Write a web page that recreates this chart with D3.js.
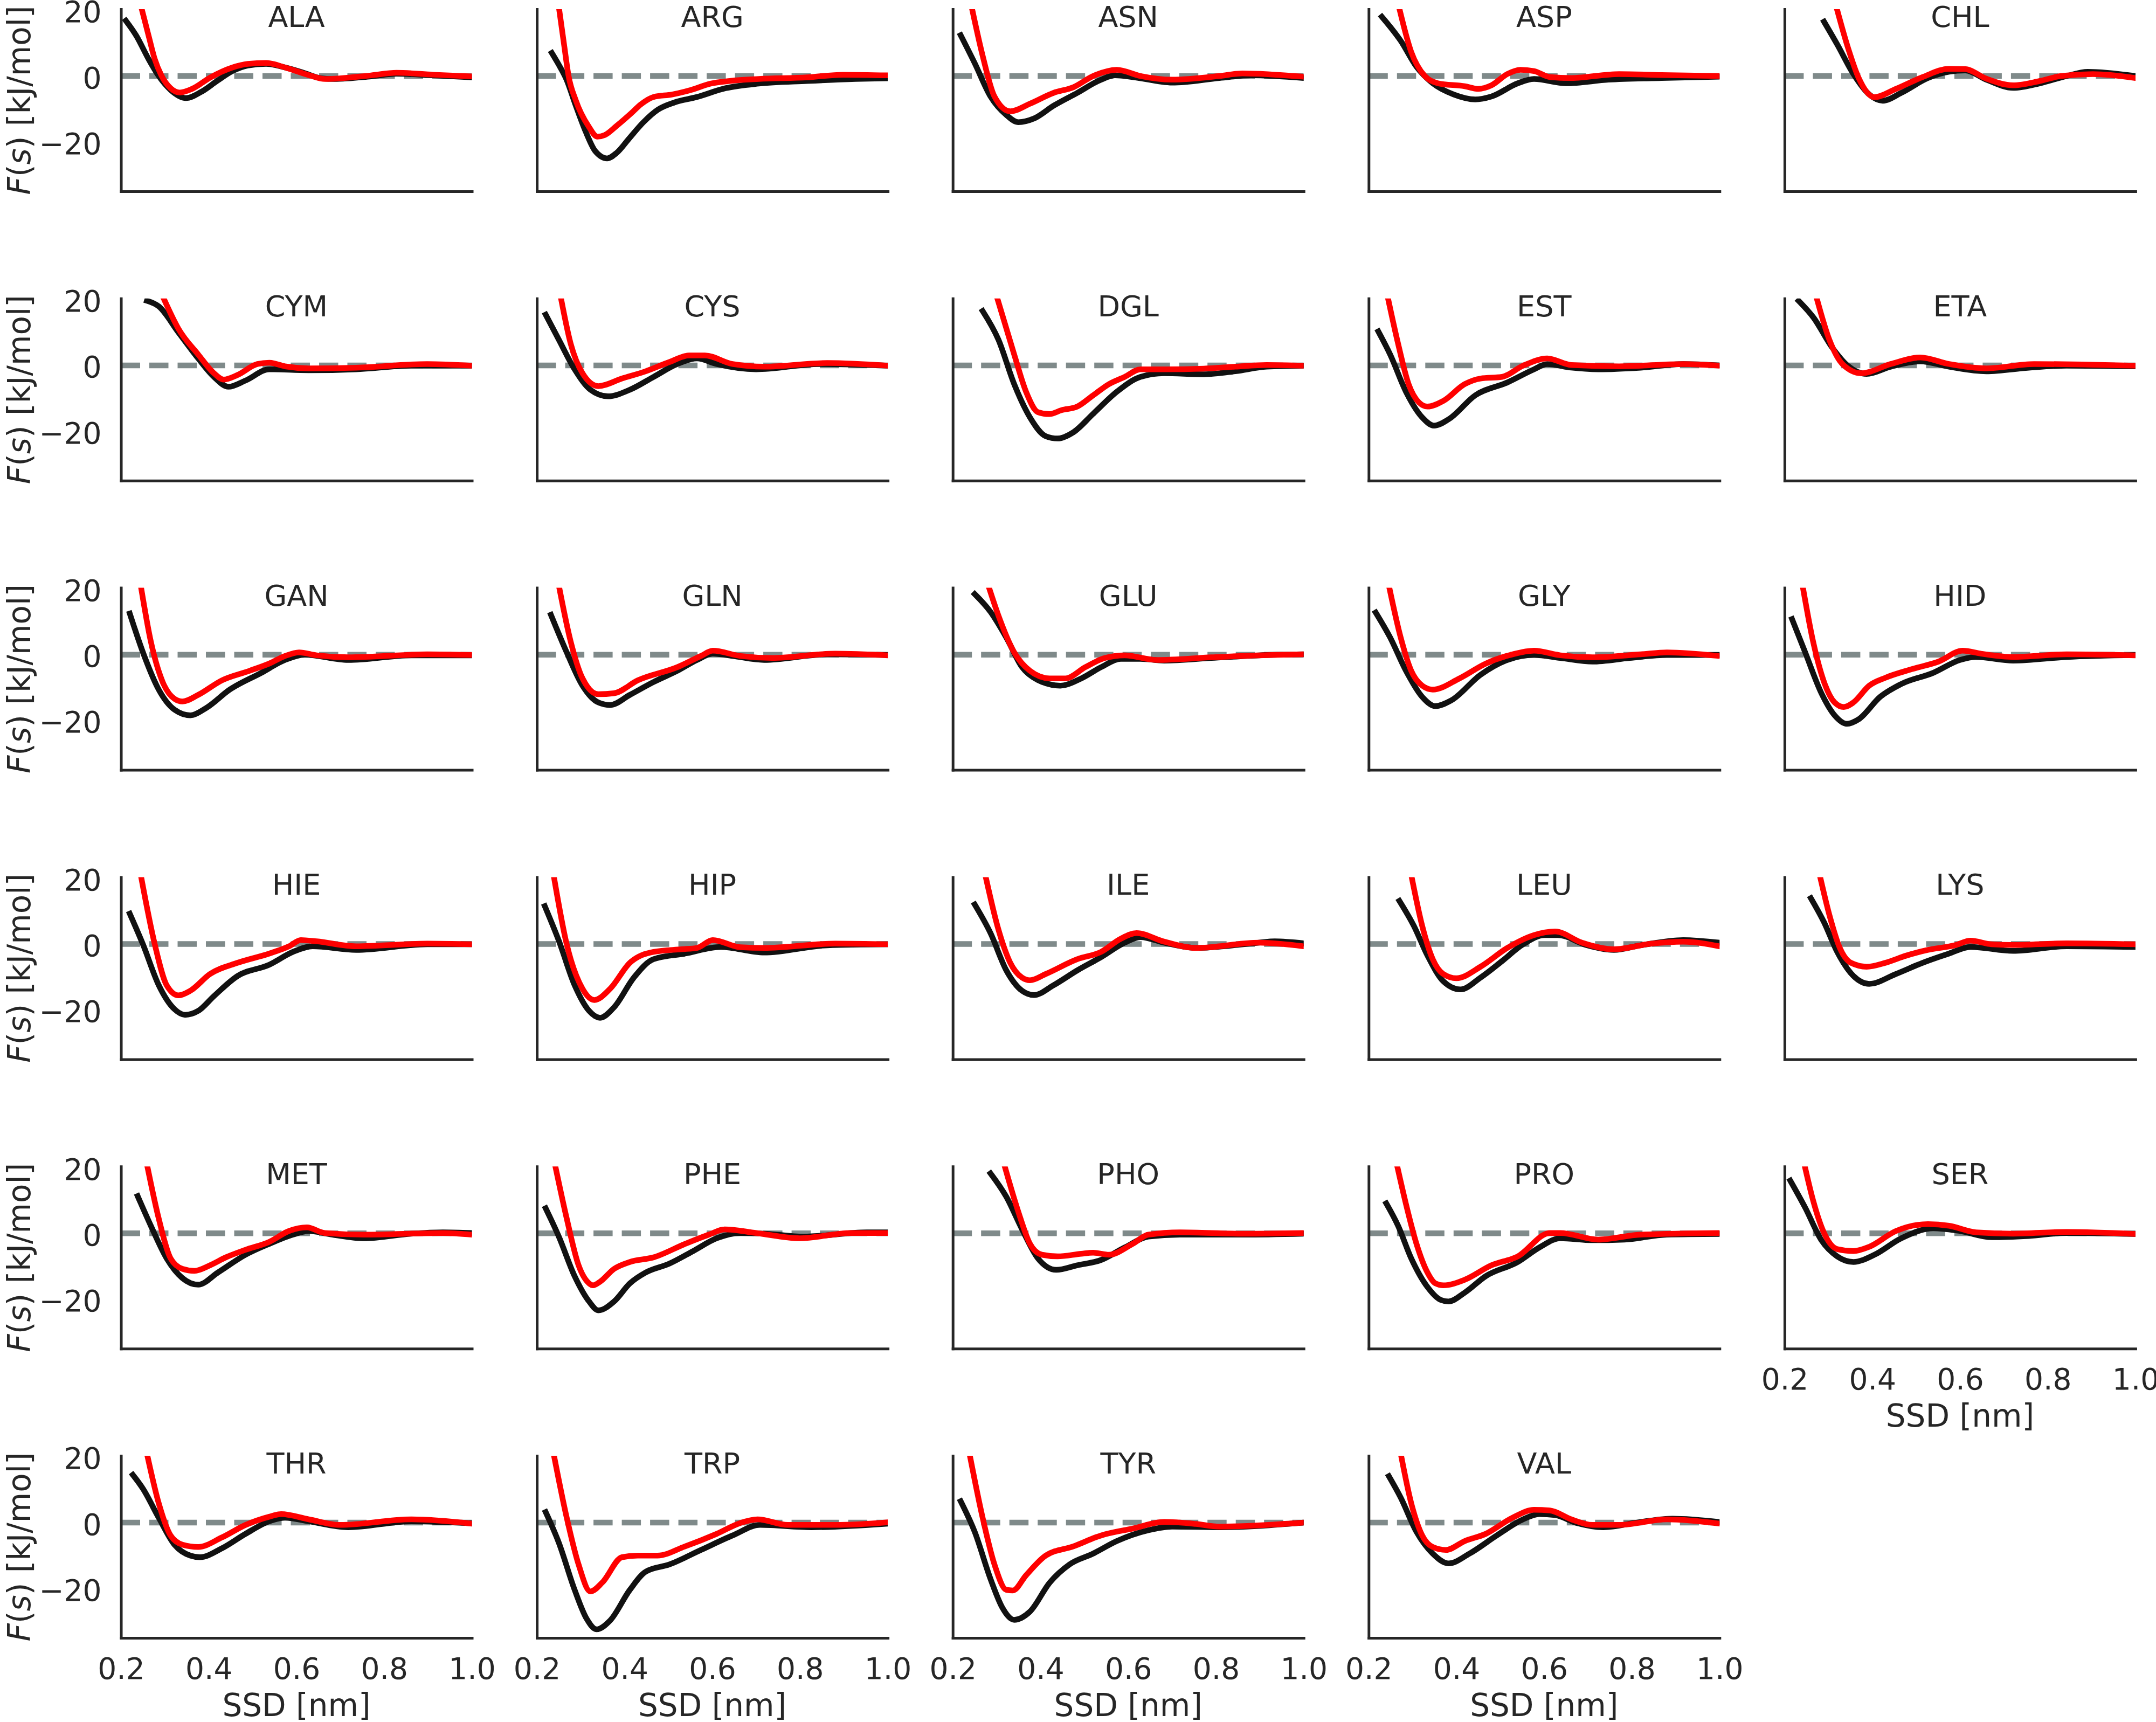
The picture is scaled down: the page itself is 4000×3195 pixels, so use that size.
<!DOCTYPE html>
<html>
<head>
<meta charset="utf-8">
<script src="https://cdn.jsdelivr.net/npm/d3@7"></script>
<style>
  html, body { margin: 0; padding: 0; background: #ffffff; }
  svg { display: block; }
</style>
</head>
<body>
<script>
// ---------------- DATA ----------------
const residues = ["ALA","ARG","ASN","ASP","CHL","CYM","CYS","DGL","EST","ETA",
                  "GAN","GLN","GLU","GLY","HID","HIE","HIP","ILE","LEU","LYS",
                  "MET","PHE","PHO","PRO","SER","THR","TRP","TYR","VAL"];
const xTicks = [0.2, 0.4, 0.6, 0.8, 1.0];
const yTicks = [-20, 0, 20];
const xLabel = "SSD [nm]";

// black curves [SSD nm, F(s) kJ/mol]
const blackALA = [[0.211,16.8],[0.235,12.2],[0.263,5.1],[0.285,0.2],[0.313,-4.2],[0.348,-6.7],[0.383,-4.8],[0.419,-1.5],[0.454,1.5],[0.489,3.2],[0.531,3.7],[0.574,2.6],[0.616,1.0],[0.658,-0.7],[0.687,-0.9],[0.77,-0.1],[0.828,0.7],[0.912,0.2],[1.0,-0.4]];
const redALA   = [[0.246,21],[0.263,12.2],[0.277,5.1],[0.292,0.2],[0.313,-3.7],[0.334,-5.0],[0.362,-3.9],[0.404,-0.4],[0.454,2.6],[0.489,3.7],[0.531,4.0],[0.574,2.6],[0.63,0.2],[0.665,-0.9],[0.77,0.2],[0.828,1.0],[0.912,0.4],[1.0,-0.1]];
const blackARG = [[0.234,7.0],[0.25,3.4],[0.267,-0.9],[0.289,-9.1],[0.311,-16.8],[0.333,-22.8],[0.36,-25],[0.382,-23.3],[0.41,-19],[0.443,-14],[0.476,-10.2],[0.514,-8.0],[0.564,-6.4],[0.63,-3.7],[0.706,-2.3],[0.816,-1.5],[0.926,-0.9],[1.0,-0.7]];
const redARG   = [[0.25,21],[0.262,9.5],[0.272,0.2],[0.289,-7.5],[0.317,-15.1],[0.338,-18.4],[0.355,-17.9],[0.382,-15.1],[0.415,-11.3],[0.437,-8.6],[0.465,-6.4],[0.508,-5.6],[0.552,-4.2],[0.596,-2.3],[0.64,-1.5],[0.706,-0.9],[0.816,-0.4],[0.898,0.4],[1.0,0.2]];
const blackASN = [[0.218,12.4],[0.25,3.9],[0.286,-6.2],[0.322,-11.8],[0.349,-14.0],[0.385,-12.9],[0.43,-9.0],[0.484,-5.1],[0.538,-1.1],[0.57,0.2],[0.61,-0.3],[0.7,-2.0],[0.808,-0.6],[0.88,0.2],[1.0,-0.6]];
const redASN   = [[0.243,21],[0.268,6.2],[0.295,-6.2],[0.331,-10.7],[0.376,-8.4],[0.43,-5.1],[0.475,-3.4],[0.52,0],[0.574,1.9],[0.628,0],[0.7,-1.1],[0.808,0],[0.86,0.8],[1.0,-0.2]];
const blackASP = [[0.23,18],[0.273,10.7],[0.309,2.8],[0.346,-2.2],[0.394,-5.6],[0.443,-7.1],[0.48,-6.2],[0.54,-2.2],[0.577,-0.9],[0.65,-2.2],[0.747,-1.1],[0.868,-0.6],[1.0,-0.2]];
const redASP   = [[0.269,21],[0.297,7.3],[0.328,0],[0.358,-2.2],[0.419,-3.1],[0.449,-3.9],[0.48,-2.8],[0.516,0.6],[0.546,1.9],[0.577,1.5],[0.613,-0.3],[0.662,-0.6],[0.771,0.6],[0.868,0.3],[1.0,0]];
const blackCHL = [[0.29,16.5],[0.32,9.6],[0.357,0.6],[0.393,-5.6],[0.424,-7.5],[0.466,-5.1],[0.527,-0.6],[0.575,1.3],[0.612,1.7],[0.66,-1.1],[0.721,-3.6],[0.782,-2.2],[0.843,0],[0.891,1.3],[1.0,0]];
const redCHL   = [[0.318,21],[0.345,8.4],[0.369,-0.6],[0.405,-6.4],[0.454,-3.9],[0.515,-0.3],[0.575,2.2],[0.612,2.1],[0.66,-0.8],[0.721,-2.8],[0.782,-1.5],[0.83,0],[0.903,0.6],[1.0,-0.6]];
const blackCYM = [[0.259,19.6],[0.286,17.9],[0.331,10],[0.376,2.1],[0.412,-3.5],[0.445,-6.5],[0.484,-4.6],[0.538,-1.2],[0.628,-1.5],[0.736,-1.2],[0.862,-0.1],[1.0,-0.1]];
const redCYM   = [[0.295,21],[0.331,11.1],[0.376,3.3],[0.412,-2.4],[0.434,-4.3],[0.466,-2.9],[0.511,0.4],[0.538,0.8],[0.574,-0.3],[0.628,-0.9],[0.736,-0.7],[0.898,0.4],[1.0,-0.1]];
const blackCYS = [[0.22,15.4],[0.25,7.8],[0.286,-1.2],[0.322,-7.4],[0.362,-9.4],[0.412,-7.4],[0.466,-3.5],[0.52,0.4],[0.565,2.1],[0.61,0.4],[0.7,-1.2],[0.844,0.4],[1.0,-0.1]];
const redCYS   = [[0.254,21],[0.277,6.6],[0.304,-2.4],[0.34,-6.3],[0.394,-4.0],[0.448,-1.8],[0.502,1.0],[0.547,3.0],[0.583,3.0],[0.646,0.4],[0.718,-0.4],[0.862,0.7],[1.0,-0.1]];
const blackDGL = [[0.268,16.5],[0.304,7.8],[0.34,-5.7],[0.376,-15.8],[0.412,-21.5],[0.439,-22.2],[0.475,-20.3],[0.52,-14.7],[0.574,-8.0],[0.628,-3.5],[0.682,-2.4],[0.772,-2.7],[0.844,-1.8],[0.916,-0.4],[1.0,-0.1]];
const redDGL   = [[0.3,21],[0.34,3.3],[0.367,-8.0],[0.394,-14.2],[0.42,-14.8],[0.448,-13.6],[0.484,-12.5],[0.52,-9.1],[0.556,-5.7],[0.592,-3.5],[0.628,-1.2],[0.682,-1.2],[0.772,-1.0],[0.844,-0.4],[0.916,0.1],[1.0,-0.1]];
const blackEST = [[0.222,10.3],[0.249,3.3],[0.285,-8.0],[0.322,-15.8],[0.349,-18.3],[0.382,-16.4],[0.443,-9.1],[0.516,-5.2],[0.577,-1.2],[0.607,0.4],[0.662,-0.7],[0.723,-1.2],[0.82,-0.7],[0.917,0.4],[1.0,0]];
const redEST   = [[0.243,21],[0.267,6.6],[0.291,-5.7],[0.315,-11.3],[0.334,-12.5],[0.37,-10.8],[0.419,-5.7],[0.455,-4.0],[0.504,-3.5],[0.552,-0.1],[0.607,2.1],[0.662,0.1],[0.771,-0.3],[0.917,0.4],[1.0,-0.1]];
const blackETA = [[0.232,19.6],[0.266,14.5],[0.308,5.5],[0.344,-0.1],[0.387,-2.6],[0.442,-0.4],[0.509,1.2],[0.575,-0.4],[0.66,-1.8],[0.757,-0.7],[0.843,-0.1],[1.0,-0.3]];
const redETA   = [[0.272,21],[0.302,7.8],[0.332,0.4],[0.375,-2.4],[0.442,0.4],[0.509,2.4],[0.575,0.4],[0.66,-0.9],[0.769,0.4],[0.903,0.2],[1.0,-0.1]];
const blackGAN = [[0.22,12.5],[0.25,0.7],[0.286,-10.6],[0.322,-16.7],[0.358,-18.4],[0.394,-16.2],[0.448,-10.6],[0.52,-5.5],[0.574,-1.6],[0.619,0],[0.718,-1.6],[0.862,-0.2],[1.0,-0.2]];
const redGAN   = [[0.245,21],[0.268,4.0],[0.295,-8.3],[0.322,-13.4],[0.34,-14.2],[0.376,-12.2],[0.43,-7.8],[0.493,-4.9],[0.538,-2.7],[0.574,-0.4],[0.606,0.7],[0.646,-0.2],[0.718,-0.8],[0.898,0.1],[1.0,-0.1]];
const blackGLN = [[0.232,12.1],[0.268,0.7],[0.304,-9.4],[0.34,-14.5],[0.367,-15.3],[0.412,-12.2],[0.466,-8.3],[0.52,-4.9],[0.565,-1.6],[0.601,0.3],[0.646,-0.4],[0.718,-1.6],[0.862,0.1],[1.0,-0.1]];
const redGLN   = [[0.25,21],[0.277,4.0],[0.304,-7.2],[0.34,-12.0],[0.376,-11.7],[0.43,-7.8],[0.52,-3.8],[0.574,-0.4],[0.601,1.2],[0.664,-0.4],[0.736,-1.0],[0.88,0.3],[1.0,-0.2]];
const blackGLU = [[0.25,18.4],[0.286,13.0],[0.322,5.2],[0.358,-3.8],[0.394,-7.7],[0.445,-9.4],[0.493,-7.2],[0.538,-3.8],[0.583,-1.3],[0.628,-1.3],[0.682,-1.8],[0.79,-1.0],[0.898,-0.2],[1.0,0.1]];
const redGLU   = [[0.281,21],[0.304,11.9],[0.34,0.7],[0.376,-4.9],[0.421,-7.2],[0.457,-7.2],[0.502,-3.8],[0.547,-1.0],[0.592,-0.2],[0.664,-1.6],[0.79,-0.8],[0.898,-0.2],[1.0,0.1]];
const blackGLY = [[0.216,12.8],[0.249,5.2],[0.285,-4.9],[0.322,-12.8],[0.352,-15.6],[0.388,-13.9],[0.455,-6.1],[0.516,-1.6],[0.577,-0.1],[0.637,-1.0],[0.71,-2.1],[0.795,-1.0],[0.88,-0.1],[1.0,-0.1]];
const redGLY   = [[0.246,21],[0.273,5.2],[0.297,-4.9],[0.322,-9.4],[0.346,-10.6],[0.407,-7.2],[0.467,-2.7],[0.528,0.1],[0.577,1.2],[0.637,-0.2],[0.71,-0.8],[0.82,0.1],[0.88,0.7],[1.0,-0.4]];
const blackHID = [[0.217,10.8],[0.247,0.7],[0.284,-11.7],[0.314,-18.4],[0.342,-21.0],[0.369,-19.6],[0.418,-12.8],[0.466,-8.9],[0.539,-5.5],[0.6,-1.6],[0.636,-0.7],[0.721,-1.8],[0.843,-0.7],[1.0,-0.1]];
const redHID   = [[0.241,21],[0.265,4.0],[0.29,-8.3],[0.314,-14.5],[0.335,-15.9],[0.357,-14.5],[0.393,-9.4],[0.43,-7.0],[0.49,-4.4],[0.551,-2.1],[0.606,1.2],[0.648,0.3],[0.721,-0.7],[0.843,0.1],[1.0,-0.2]];
const blackHIE = [[0.22,9.2],[0.25,-0.1],[0.286,-12.5],[0.322,-19.8],[0.346,-21.5],[0.376,-20.3],[0.412,-15.8],[0.466,-9.7],[0.538,-6.3],[0.592,-2.4],[0.637,-0.7],[0.736,-1.8],[0.898,-0.1],[1.0,-0.1]];
const redHIE   = [[0.245,21],[0.277,-0.1],[0.304,-12.5],[0.331,-15.6],[0.358,-14.2],[0.403,-9.1],[0.466,-5.7],[0.538,-2.9],[0.583,-0.7],[0.61,1.2],[0.646,0.8],[0.736,-0.7],[0.898,0.1],[1.0,-0.1]];
const blackHIP = [[0.218,11.5],[0.25,1.0],[0.286,-12.5],[0.319,-20.3],[0.344,-22.4],[0.376,-19.2],[0.421,-10.2],[0.466,-4.6],[0.538,-2.9],[0.619,-0.9],[0.718,-2.6],[0.862,-0.4],[1.0,-0.1]];
const redHIP   = [[0.238,21],[0.268,-0.1],[0.304,-13.6],[0.331,-17.0],[0.367,-13.6],[0.412,-5.7],[0.466,-2.4],[0.529,-1.6],[0.565,-1.2],[0.601,1.2],[0.664,-1.0],[0.718,-1.2],[0.88,0.1],[1.0,-0.1]];
const blackILE = [[0.25,12.0],[0.286,3.3],[0.322,-8.0],[0.358,-14.2],[0.385,-15.5],[0.43,-12.5],[0.484,-8.0],[0.538,-4.0],[0.592,0.4],[0.628,2.1],[0.682,0.4],[0.754,-1.2],[0.898,0.4],[0.934,0.8],[1.0,0.2]];
const redILE   = [[0.274,21],[0.304,4.4],[0.331,-5.7],[0.358,-10.2],[0.376,-11.0],[0.412,-9.1],[0.484,-4.6],[0.538,-2.4],[0.583,1.6],[0.619,3.3],[0.682,0.7],[0.754,-1.2],[0.898,0.4],[1.0,-0.7]];
const blackLEU = [[0.27,13.1],[0.303,5.5],[0.334,-3.5],[0.37,-11.3],[0.409,-13.8],[0.455,-10.2],[0.504,-5.2],[0.552,-0.1],[0.601,2.7],[0.631,2.7],[0.698,-0.4],[0.759,-1.8],[0.82,-0.4],[0.917,1.2],[1.0,0.4]];
const redLEU   = [[0.297,21],[0.322,5.5],[0.346,-4.6],[0.37,-9.1],[0.4,-10.4],[0.455,-6.9],[0.516,-1.2],[0.577,2.7],[0.625,3.8],[0.686,0.4],[0.759,-1.6],[0.844,0.1],[0.917,0.7],[1.0,-0.7]];
const blackLYS = [[0.26,13.9],[0.29,6.6],[0.32,-2.4],[0.357,-9.7],[0.393,-12.1],[0.454,-9.1],[0.515,-5.7],[0.575,-2.9],[0.624,-0.9],[0.721,-2.1],[0.843,-0.7],[1.0,-0.9]];
const redLYS   = [[0.28,21],[0.302,8.9],[0.326,-1.2],[0.351,-5.7],[0.387,-6.9],[0.43,-5.7],[0.478,-3.5],[0.527,-1.8],[0.588,-0.4],[0.624,1.0],[0.672,-0.1],[0.721,-0.3],[0.843,0.2],[1.0,-0.1]];
const blackMET = [[0.238,11.3],[0.268,2.3],[0.304,-7.6],[0.34,-13.6],[0.376,-15.6],[0.421,-11.9],[0.484,-6.5],[0.538,-3.2],[0.592,-0.4],[0.628,0.7],[0.682,-0.4],[0.754,-1.5],[0.862,-0.1],[0.934,0.3],[1.0,0.1]];
const redMET   = [[0.259,21],[0.286,4.5],[0.313,-7.6],[0.34,-10.8],[0.367,-11.4],[0.403,-9.7],[0.439,-7.3],[0.484,-5.0],[0.538,-2.6],[0.583,0.7],[0.624,1.8],[0.664,0.1],[0.754,-0.4],[0.934,0.1],[1.0,-0.4]];
const blackPHE = [[0.22,7.6],[0.25,-1.0],[0.286,-13.0],[0.319,-20.7],[0.34,-23.4],[0.376,-20.7],[0.412,-15.2],[0.448,-11.9],[0.502,-9.2],[0.556,-5.4],[0.61,-1.5],[0.664,0.1],[0.718,-0.1],[0.808,-1.0],[0.952,0.3],[1.0,0.3]];
const redPHE   = [[0.241,21],[0.268,4.5],[0.295,-9.7],[0.319,-15.2],[0.328,-15.8],[0.344,-14.7],[0.376,-10.8],[0.412,-8.7],[0.466,-7.3],[0.538,-3.2],[0.592,-0.4],[0.628,1.2],[0.7,0.1],[0.799,-1.5],[0.916,0.1],[1.0,0.1]];
const blackPHO = [[0.286,18.2],[0.322,11.1],[0.358,1.2],[0.394,-7.6],[0.436,-11.1],[0.484,-9.7],[0.538,-8.1],[0.592,-4.3],[0.646,-1.0],[0.718,-0.4],[0.862,-0.4],[1.0,-0.1]];
const redPHO   = [[0.317,21],[0.349,6.7],[0.376,-3.2],[0.403,-6.5],[0.439,-7.0],[0.493,-6.2],[0.52,-5.9],[0.556,-6.5],[0.61,-3.2],[0.646,-0.4],[0.718,0.3],[0.862,-0.1],[1.0,0.1]];
const blackPRO = [[0.24,9.1],[0.267,2.3],[0.297,-7.6],[0.334,-16.3],[0.364,-20.2],[0.382,-20.7],[0.419,-18.0],[0.467,-13.0],[0.54,-8.7],[0.589,-4.3],[0.637,-1.5],[0.71,-2.1],[0.783,-1.9],[0.88,-0.4],[1.0,-0.2]];
const redPRO   = [[0.264,21],[0.285,8.9],[0.309,-3.2],[0.334,-11.9],[0.352,-15.2],[0.37,-15.8],[0.419,-14.1],[0.48,-9.7],[0.54,-7.0],[0.613,0.1],[0.637,0.1],[0.723,-1.9],[0.82,-0.4],[1.0,0.1]];
const blackSER = [[0.213,16.0],[0.247,7.8],[0.284,-2.1],[0.32,-7.0],[0.357,-8.7],[0.405,-6.5],[0.466,-1.5],[0.539,1.5],[0.6,0.7],[0.672,-1.2],[0.757,-0.8],[0.843,0.1],[1.0,-0.2]];
const redSER   = [[0.245,21],[0.265,10.0],[0.29,0.1],[0.32,-4.8],[0.357,-5.4],[0.393,-4.1],[0.454,0.7],[0.527,2.8],[0.575,2.3],[0.636,0.3],[0.721,-0.1],[0.843,0.4],[1.0,-0.2]];
const blackTHR = [[0.227,14.5],[0.25,10.3],[0.286,1.5],[0.322,-6.7],[0.358,-10.0],[0.38,-10.5],[0.43,-7.8],[0.484,-3.4],[0.538,0.4],[0.574,1.5],[0.628,0.4],[0.718,-1.4],[0.862,0.4],[1.0,-0.2]];
const redTHR   = [[0.259,21],[0.286,5.9],[0.313,-3.9],[0.34,-6.7],[0.376,-7.4],[0.43,-4.5],[0.484,-0.7],[0.538,1.8],[0.565,2.6],[0.628,1.0],[0.7,-0.7],[0.862,1.0],[1.0,-0.3]];
const blackTRP = [[0.22,3.2],[0.25,-6.1],[0.286,-20.4],[0.313,-29.1],[0.336,-32.4],[0.367,-29.7],[0.412,-20.4],[0.448,-14.9],[0.502,-12.7],[0.574,-8.3],[0.646,-3.9],[0.709,-0.7],[0.826,-1.4],[1.0,-0.3]];
const redTRP   = [[0.238,21],[0.268,1.5],[0.295,-12.7],[0.322,-20.9],[0.349,-18.2],[0.394,-10.5],[0.43,-10.0],[0.475,-10.0],[0.538,-7.2],[0.61,-3.4],[0.664,-0.1],[0.703,1.0],[0.772,-0.7],[0.88,-0.7],[1.0,0.1]];
const blackTYR = [[0.218,6.5],[0.25,-2.8],[0.286,-17.1],[0.313,-25.8],[0.34,-29.5],[0.376,-27.0],[0.421,-18.2],[0.466,-12.7],[0.52,-9.4],[0.574,-5.6],[0.646,-2.3],[0.7,-1.2],[0.808,-1.4],[1.0,0]];
const redTYR   = [[0.238,21],[0.268,1.5],[0.295,-12.7],[0.322,-20.4],[0.337,-20.6],[0.367,-16.0],[0.412,-10.0],[0.475,-7.2],[0.538,-3.9],[0.61,-1.8],[0.682,0.2],[0.754,-0.4],[0.808,-1.2],[1.0,0]];
const blackVAL = [[0.246,14.1],[0.273,7.6],[0.309,-2.8],[0.346,-9.4],[0.382,-12.4],[0.43,-9.4],[0.492,-3.9],[0.552,1.0],[0.589,2.6],[0.625,2.3],[0.674,-0.1],[0.735,-1.4],[0.82,0.2],[0.893,1.2],[1.0,0.2]];
const redVAL   = [[0.273,21],[0.297,5.9],[0.322,-3.9],[0.346,-7.4],[0.376,-8.3],[0.419,-5.6],[0.467,-3.4],[0.528,1.5],[0.577,3.9],[0.613,3.7],[0.662,1.0],[0.71,-0.7],[0.771,-0.7],[0.88,1.0],[1.0,-0.3]];

const blackSeries = [blackALA,blackARG,blackASN,blackASP,blackCHL,blackCYM,blackCYS,blackDGL,blackEST,blackETA,
  blackGAN,blackGLN,blackGLU,blackGLY,blackHID,blackHIE,blackHIP,blackILE,blackLEU,blackLYS,
  blackMET,blackPHE,blackPHO,blackPRO,blackSER,blackTHR,blackTRP,blackTYR,blackVAL];
const redSeries = [redALA,redARG,redASN,redASP,redCHL,redCYM,redCYS,redDGL,redEST,redETA,
  redGAN,redGLN,redGLU,redGLY,redHID,redHIE,redHIP,redILE,redLEU,redLYS,
  redMET,redPHE,redPHO,redPRO,redSER,redTHR,redTRP,redTYR,redVAL];

// ---------------- LAYOUT ----------------
const W = 4000, H = 3195;
const colLeft = 224.5, colStep = 771.6, panelW = 651;
const rowTop = 17, rowStep = 536.8, panelH = 338;
const textColor = "#262626";
const fontFam = "'DejaVu Sans', sans-serif";
const tickFs = 55, labelFs = 58, titleFs = 54;

const svg = d3.select("body").append("svg")
  .attr("width", W).attr("height", H)
  .attr("viewBox", `0 0 ${W} ${H}`);
svg.append("rect").attr("width", W).attr("height", H).attr("fill", "#ffffff");

const x = d3.scaleLinear().domain([0.2, 1.0]).range([0, panelW]);
const y = d3.scaleLinear().domain([-35, 20.3]).range([panelH, 0]);

const line = d3.line()
  .x(d => x(d[0])).y(d => y(d[1]))
  .curve(d3.curveMonotoneX);

const defs = svg.append("defs");
defs.append("clipPath").attr("id", "panelClip")
  .append("rect").attr("x", 0).attr("y", 0).attr("width", panelW).attr("height", panelH);

residues.forEach((name, i) => {
  const row = Math.floor(i / 5), col = i % 5;
  const gx = colLeft + col * colStep, gy = rowTop + row * rowStep;
  const g = svg.append("g").attr("transform", `translate(${gx},${gy})`);

  const plot = g.append("g").attr("clip-path", "url(#panelClip)");
  // zero reference line (dashed)
  plot.append("line")
    .attr("x1", x(0.2)).attr("x2", x(1.0))
    .attr("y1", y(0)).attr("y2", y(0))
    .attr("stroke", "#7f8a8a").attr("stroke-width", 10.5)
    .attr("stroke-dasharray", "35.5,17");

  plot.append("path").datum(blackSeries[i])
    .attr("d", line).attr("fill", "none")
    .attr("stroke", "#111111").attr("stroke-width", 10.5)
    .attr("stroke-linejoin", "round").attr("stroke-linecap", "square");

  plot.append("path").datum(redSeries[i])
    .attr("d", line).attr("fill", "none")
    .attr("stroke", "#ff0000").attr("stroke-width", 10.5)
    .attr("stroke-linejoin", "round").attr("stroke-linecap", "square");

  // axes (spines + tick labels)
  const yAxis = d3.axisLeft(y).tickValues(yTicks).tickSize(0).tickSizeOuter(0).tickPadding(36)
    .tickFormat(col === 0 ? d3.format("d") : () => "");
  const ya = g.append("g").call(yAxis);
  const xAxis = d3.axisBottom(x).tickValues(xTicks).tickSize(0).tickSizeOuter(0).tickPadding(37)
    .tickFormat(i >= 24 ? d3.format(".1f") : () => "");
  const xa = g.append("g").attr("transform", `translate(0,${panelH})`).call(xAxis);

  [ya, xa].forEach(a => {
    a.attr("font-family", fontFam).attr("font-size", tickFs);
    a.select(".domain").attr("stroke", textColor).attr("stroke-width", 5)
      .attr("stroke-linecap", "square");
    a.selectAll("text").attr("fill", textColor);
  });
  ya.selectAll("text")
    .attr("dy", "0.4em")
    .text(d => col === 0 ? (d < 0 ? "\u2212" + Math.abs(d) : String(d)) : "");

  // title
  g.append("text")
    .attr("x", panelW / 2).attr("y", 33)
    .attr("text-anchor", "middle")
    .attr("font-family", fontFam).attr("font-size", titleFs)
    .attr("fill", textColor).text(name);

  // y label
  if (col === 0) {
    const t = svg.append("text")
      .attr("transform", `translate(56,${gy + panelH / 2}) rotate(-90)`)
      .attr("text-anchor", "middle")
      .attr("font-family", fontFam).attr("font-size", labelFs)
      .attr("fill", textColor);
    t.append("tspan").attr("font-style", "italic").text("F");
    t.append("tspan").text("(");
    t.append("tspan").attr("font-style", "italic").text("s");
    t.append("tspan").text(") [kJ/mol]");
  }
  // x label
  if (i >= 24) {
    g.append("text")
      .attr("x", panelW / 2).attr("y", panelH + 145)
      .attr("text-anchor", "middle")
      .attr("font-family", fontFam).attr("font-size", labelFs)
      .attr("fill", textColor).text(xLabel);
  }
});
</script>
</body>
</html>
